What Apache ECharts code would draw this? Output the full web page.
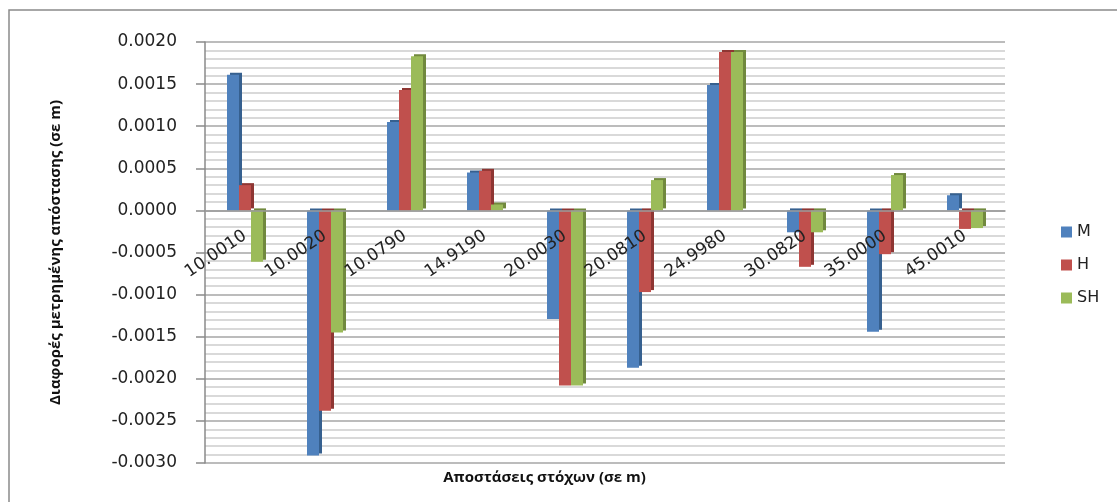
<!DOCTYPE html>
<html><head><meta charset="utf-8">
<script src="https://cdn.jsdelivr.net/npm/echarts@6/dist/echarts.min.js"></script>
<style>html,body{margin:0;padding:0;background:#fff}#c{width:1117px;height:502px}</style>
</head><body><div id="c"></div>
<script>
const categories = ['10.0010','10.0020','10.0790','14.9190','20.0030','20.0810','24.9980','30.0820','35.0000','45.0010'];
const seriesNames = ['M','H','SH'];
const valuesM  = [0.00161, -0.00291, 0.00105, 0.00045, -0.00129, -0.00187, 0.00149, -0.00026, -0.00144, 0.00018];
const valuesH  = [0.00030, -0.00238, 0.00143, 0.00047, -0.00208, -0.00097, 0.00188, -0.00067, -0.00052, -0.00022];
const valuesSH = [-0.00061, -0.00145, 0.00183, 0.00007, -0.00208, 0.00036, 0.00188, -0.00026, 0.00042, -0.00021];
const colors = ['#4F81BD','#C0504D','#9BBB59'];
const sideColors = ['#36608f','#8e3633','#71893e'];

const chart = echarts.init(document.getElementById('c'));
const allVals = [valuesM, valuesH, valuesSH];
const labelFont = 'DejaVu Sans';
const gridTop = 42, gridBottom = 39, H = 502;
const yMin = -0.003, yMax = 0.002;
const plotH = H - gridTop - gridBottom;
const zeroFromBottom = plotH * (0 - yMin) / (yMax - yMin);
chart.setOption({
  animation: false,
  graphic: [{
    type: 'rect', shape: {x: 9, y: 10, width: 1130, height: 520},
    style: {fill: 'none', stroke: '#8a8a8a', lineWidth: 1.5}, silent: true, z: 0
  }],
  legend: {
    orient: 'vertical', left: 1056, top: 219, itemWidth: 11, itemHeight: 11, itemGap: 17,
    icon: 'rect', data: seriesNames,
    textStyle: {fontFamily: labelFont, fontSize: 16, color: '#222'}
  },
  grid: {left: 205, right: 112, top: gridTop, bottom: gridBottom, containLabel: false, outerBoundsMode: 'none'},
  xAxis: {
    type: 'category', data: categories, z: 10,
    offset: -zeroFromBottom,
    name: 'Αποστάσεις στόχων (σε m)', nameLocation: 'middle', nameGap: zeroFromBottom + 7,
    nameTextStyle: {fontFamily: 'Open Sans', fontWeight: 'bold', fontSize: 15, color: '#111', padding: [0, 121, 0, 0]},
    axisLine: {show: true, onZero: false, lineStyle: {color: '#9a9a9a', width: 1.5}},
    axisTick: {show: false},
    axisLabel: {rotate: 34, margin: 24, fontFamily: labelFont, fontSize: 17, color: '#222', interval: 0},
    splitLine: {show: false}
  },
  yAxis: {
    type: 'value', min: yMin, max: yMax, interval: 0.0005, minorTick: {show: false, splitNumber: 5},
    name: 'Διαφορές μετρημένης απόστασης (σε m)', nameLocation: 'middle', nameGap: 142, nameRotate: 90,
    nameTextStyle: {fontFamily: 'Open Sans', fontWeight: 'bold', fontSize: 15, color: '#111'},
    axisLine: {show: true, lineStyle: {color: '#8a8a8a', width: 1.5}},
    axisTick: {show: true, length: 9, lineStyle: {color: '#8a8a8a', width: 1.5}},
    axisLabel: {fontFamily: labelFont, fontSize: 17, color: '#222', margin: 28,
      formatter: v => v.toFixed(4)},
    splitLine: {show: true, lineStyle: {color: '#a6a6a6', width: 1.5}},
    minorSplitLine: {show: true, lineStyle: {color: '#cdcdcd', width: 1.5}}
  },
  series: seriesNames.map((n, i) => ({
    name: n, type: 'bar', data: allVals[i], barWidth: 12, barGap: '0%', barCategoryGap: '52%',
    itemStyle: {color: colors[i], shadowColor: sideColors[i], shadowBlur: 0, shadowOffsetX: 3, shadowOffsetY: -2}
  }))
});
</script></body></html>
